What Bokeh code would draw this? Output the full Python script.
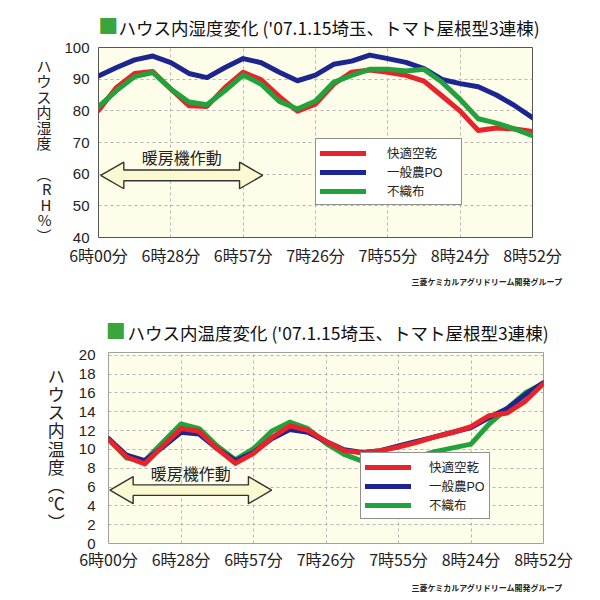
from bokeh.plotting import figure
from bokeh.models import (Range1d, Legend, LegendItem, Label, FixedTicker, Title,
                          LinearAxis)
from bokeh.layouts import column, row
from bokeh.embed import file_html
from bokeh.resources import INLINE

# ---------------- data ----------------
tick_pos = [0, 1, 2, 3, 4, 5, 6]
tick_labels = ["6時00分", "6時28分", "6時57分", "7時26分", "7時55分", "8時24分", "8時52分"]
series_names = ["快適空乾", "一般農PO", "不織布"]

x_pos = [0, 0.25, 0.5, 0.75, 1, 1.25, 1.5, 1.75, 2, 2.25, 2.5, 2.75, 3,
         3.25, 3.5, 3.75, 4, 4.25, 4.5, 4.75, 5, 5.25, 5.5, 5.75, 6]

# humidity (RH%)
hum_red = [80.1, 87.4, 91.8, 92.4, 86.9, 81.6, 81.4, 87.4, 92.2, 89.8, 84.5, 79.9, 82.1,
           88.4, 92.2, 92.9, 92.2, 91.2, 89.4, 84.7, 79.9, 73.8, 74.6, 74.3, 73.5]
hum_blue = [91.0, 93.7, 96.1, 97.3, 95.2, 91.8, 90.5, 93.7, 96.5, 95.2, 92.2, 89.5, 91.3,
            94.7, 95.7, 97.6, 96.5, 95.3, 93.3, 89.9, 88.6, 87.6, 85.0, 81.7, 77.8]
hum_green = [81.3, 86.4, 90.8, 92.1, 86.9, 82.8, 81.9, 86.4, 91.3, 88.4, 83.0, 80.6, 83.1,
             89.0, 91.2, 93.1, 93.1, 92.6, 93.1, 89.0, 83.6, 77.5, 76.1, 74.3, 72.2]

# temperature (C)
tmp_red = [11.04, 9.19, 8.46, 10.36, 12.21, 11.92, 10.07, 8.51, 9.58, 11.24, 12.51, 12.02, 10.85,
           9.87, 9.63, 9.87, 10.26, 10.75, 11.34, 11.82, 12.41, 13.58, 13.87, 15.14, 17.0]
tmp_blue = [11.14, 9.38, 8.80, 10.26, 11.82, 11.63, 10.07, 8.80, 9.68, 11.14, 12.12, 11.82, 10.85,
            9.97, 9.68, 9.87, 10.36, 10.85, 11.34, 11.82, 12.31, 13.39, 14.36, 15.83, 17.09]
tmp_green = [11.14, 9.09, 8.80, 10.75, 12.70, 12.21, 10.36, 8.90, 10.07, 11.92, 12.90, 12.21, 10.65,
             9.48, 8.75, 8.65, 8.80, 9.19, 9.77, 10.16, 10.56, 12.70, 14.36, 16.02, 17.0]

hum_ticks = [40, 50, 60, 70, 80, 90, 100]
tmp_ticks = [0, 2, 4, 6, 8, 10, 12, 14, 16, 18, 20]

heater_label = "暖房機作動"
hum_arrow = dict(start=0.03, end=2.27, y=59.6, text_y=65.4)
tmp_arrow = dict(start=0.02, end=2.25, y=5.67, text_y=7.5)

title_hum = "ハウス内湿度変化 ('07.1.15埼玉、トマト屋根型3連棟)"
title_tmp = "ハウス内温度変化 ('07.1.15埼玉、トマト屋根型3連棟)"
ylabel_hum = "\nハ\nウ\nス\n内\n湿\n度\n\n︵\nR\nH\n%\n︶"
ylabel_tmp = "ハ\nウ\nス\n内\n温\n度\n︵\n℃\n︶"
credit = "三菱ケミカルアグリドリーム開発グループ"
bullet = "■"

# ---------------- style ----------------
JP = "Noto Sans CJK JP"
LEGF = "Liberation Sans, Noto Sans CJK JP"
NUM = "Liberation Sans"
RED, BLUE, GREEN = "#e8232b", "#1c2590", "#22a23c"
SQ_GREEN = "#3aa53a"
BG = "#fdfde9"
W = 600


def hide_axis_lines(ax):
    ax.axis_line_color = None
    ax.major_tick_line_color = None
    ax.minor_tick_line_color = None
    ax.major_tick_out = 0
    ax.major_tick_in = 0


def make_fig(cfg):
    p = figure(width=W, height=cfg["h"], output_backend="svg", toolbar_location=None,
               title=None,
               x_range=Range1d(0, 6), y_range=Range1d(*cfg["yr"]),
               min_border_left=cfg["bl"], min_border_right=cfg["br"],
               min_border_top=cfg["bt"], min_border_bottom=cfg["bb"])
    p.background_fill_color = BG
    p.border_fill_color = "white"
    p.outline_line_color = cfg["outline"]
    p.outline_line_width = 1

    # axes
    p.xaxis.ticker = FixedTicker(ticks=tick_pos)
    p.xaxis.major_label_overrides = {t: l for t, l in zip(tick_pos, tick_labels)}
    p.xaxis.major_label_text_font = JP
    p.xaxis.major_label_text_font_size = "16px"
    p.xaxis.major_label_text_color = "#222"
    p.xaxis.major_label_standoff = cfg["xso"]
    p.yaxis.ticker = FixedTicker(ticks=cfg["yticks"])
    p.yaxis.major_label_text_font = NUM
    p.yaxis.major_label_text_font_size = "15px"
    p.yaxis.major_label_text_color = "#222"
    p.yaxis.major_label_standoff = cfg["yso"]
    p.yaxis.axis_label = cfg["ylabel"]
    p.yaxis.axis_label_orientation = "horizontal"
    p.yaxis.axis_label_text_font = JP
    p.yaxis.axis_label_text_font_style = "normal"
    p.yaxis.axis_label_text_font_size = cfg["ylfs"]
    p.yaxis.axis_label_text_line_height = cfg["yllh"]
    p.yaxis.axis_label_text_color = "#222"
    p.yaxis.axis_label_standoff = cfg["ylso"]
    hide_axis_lines(p.xaxis[0])
    hide_axis_lines(p.yaxis[0])

    p.xgrid.ticker = FixedTicker(ticks=tick_pos)
    p.ygrid.ticker = FixedTicker(ticks=cfg["yticks"])
    for g in (p.xgrid, p.ygrid):
        g.grid_line_color = "#b5b5b5"
        g.grid_line_dash = "3 3"
        g.grid_line_width = 1

    # heater arrow
    a = cfg["arrow"]
    hl, hh, sh = 0.32, cfg["head_h"], cfg["shaft_h"]
    ax_ = [a["start"], a["start"] + hl, a["start"] + hl, a["end"] - hl, a["end"] - hl, a["end"],
           a["end"] - hl, a["end"] - hl, a["start"] + hl, a["start"] + hl]
    ay_ = [a["y"], a["y"] + hh, a["y"] + sh, a["y"] + sh, a["y"] + hh, a["y"],
           a["y"] - hh, a["y"] - sh, a["y"] - sh, a["y"] - hh]
    p.patch(ax_, ay_, fill_color="#fbf9cf", line_color="#333333", line_width=1.4)
    p.add_layout(Label(x=(a["start"] + a["end"]) / 2, y=a["text_y"], text=heater_label,
                       text_font=JP, text_font_size="16px", text_color="#222",
                       text_align="center", text_baseline="middle"))

    # series
    rs = []
    for ys, col in cfg["series"]:
        rs.append(p.line(x_pos, ys, line_color=col, line_width=5, line_join="round",
                         line_cap="round"))
    order = cfg["draw_order"]
    p.renderers = [p.renderers[0]] + [rs[i] for i in order]

    items = [LegendItem(label=n, renderers=[r]) for n, r in zip(series_names, rs)]
    lg = Legend(items=items, location=cfg["leg_loc"], orientation="vertical",
                glyph_width=cfg["leg_gw"], glyph_height=12, label_height=12,
                label_width=cfg["leg_lw"], label_standoff=cfg["leg_so"],
                padding=4, margin=0,
                border_line_color="#222", border_line_width=1.2,
                background_fill_color="white", background_fill_alpha=1,
                label_text_font=LEGF, label_text_font_size="12.5px",
                label_text_color="#222")
    try:
        lg.spacing = -4
    except Exception:
        lg.spacing = 0
    p.add_layout(lg)

    # title text
    p.add_layout(Title(text=cfg["title"], align="left", offset=cfg["t_off"],
                       standoff=cfg["t_so"], text_font=JP, text_font_size="17.5px",
                       text_font_style="normal", text_color="#111"), "above")
    # green square bullet in front of the title
    p.extra_x_ranges = {"bullet": Range1d(*cfg["sq_range"])}
    sq_axis = LinearAxis(x_range_name="bullet", ticker=FixedTicker(ticks=[0]),
                         major_label_overrides={0: bullet},
                         major_label_text_color=SQ_GREEN, major_label_text_font=JP,
                         major_label_text_font_size="20px",
                         major_label_standoff=cfg["sq_so"])
    hide_axis_lines(sq_axis)
    p.add_layout(sq_axis, "above")

    # credit
    p.add_layout(Title(text=credit, align="right", offset=cfg["c_off"], standoff=cfg["c_so"],
                       text_font=JP, text_font_size="8px", text_font_style="bold",
                       text_color="#222"), "below")
    return p


p1 = make_fig(dict(
    h=300, yr=(40, 100), yticks=hum_ticks, bl=98, br=68, bt=47, bb=63, outline="#555555",
    xso=5, yso=9, arrow=hum_arrow, head_h=4.2, shaft_h=1.7,
    series=[(hum_red, RED), (hum_blue, BLUE), (hum_green, GREEN)], draw_order=[0, 1, 2],
    leg_loc=(217, 32), leg_gw=46, leg_lw=70, leg_so=21,
    title=title_hum, t_off=20, t_so=16, sq_range=(-1, 43.3), sq_so=-35,
    ylabel=ylabel_hum, ylfs="15px", yllh=0.737, ylso=10,
    c_off=-31, c_so=8))

p2 = make_fig(dict(
    h=298, yr=(0, 20.3), yticks=tmp_ticks, bl=108, br=57, bt=52, bb=53, outline="#a0a0a0",
    xso=3, yso=13, arrow=tmp_arrow, head_h=1.44, shaft_h=0.56,
    series=[(tmp_red, RED), (tmp_blue, BLUE), (tmp_green, GREEN)], draw_order=[2, 1, 0],
    leg_loc=(252, 24), leg_gw=46, leg_lw=51, leg_so=18,
    title=title_tmp, t_off=19, t_so=15, sq_range=(-1, 59.4), sq_so=-34,
    ylabel=ylabel_tmp, ylfs="17px", yllh=0.73, ylso=11,
    c_off=-20, c_so=12))

layout = column(row(p1), row(p2), spacing=0)
open("out.html", "w").write(file_html(layout, INLINE))
